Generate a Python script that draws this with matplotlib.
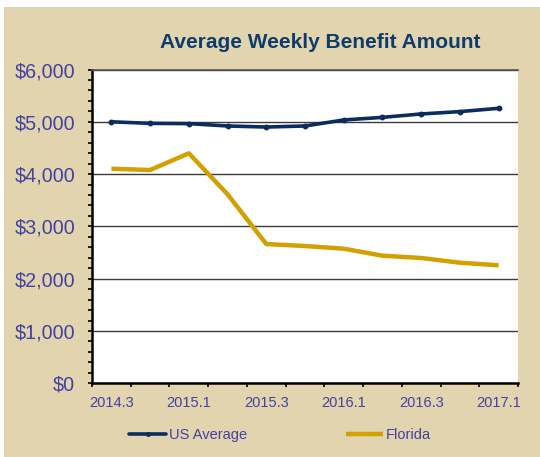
import matplotlib
matplotlib.use("Agg")
import matplotlib.pyplot as plt
from matplotlib.patches import Rectangle
from matplotlib.ticker import FixedLocator, MultipleLocator, FuncFormatter

quarters = ["2014.3", "2014.4", "2015.1", "2015.2", "2015.3", "2015.4",
            "2016.1", "2016.2", "2016.3", "2016.4", "2017.1"]
us_average = [5000, 4970, 4965, 4920, 4900, 4920, 5035, 5085, 5150, 5195, 5258]
florida = [4103, 4078, 4398, 3614, 2663, 2625, 2574, 2440, 2396, 2306, 2256]

BEIGE = "#E1D4AE"
NAVY = "#0B2C5F"
GOLD = "#D2A000"
TXT = "#4242A2"
TITLE = "#0E3D6B"
FONT = "Liberation Sans"

fig = plt.figure(figsize=(5.4, 4.57), dpi=100, facecolor="white")
bg = Rectangle((4 / 540, 0), 1 - 4 / 540, 1 - 7 / 457,
               transform=fig.transFigure, facecolor=BEIGE,
               edgecolor="none", zorder=-10)
fig.add_artist(bg)

ax = fig.add_axes([92 / 540, 1 - 383.3 / 457, (518 - 92) / 540, (383.3 - 69.5) / 457])
ax.set_zorder(1)
ax.set_facecolor("white")

x = list(range(len(quarters)))
ax.plot(x, us_average, color=NAVY, lw=2.6, marker="o", ms=3.2, label="US Average",
        solid_capstyle="round", zorder=3)
ax.plot(x, florida, color=GOLD, lw=3.2, label="Florida", solid_capstyle="butt", zorder=3)

ax.set_xlim(-0.5, len(quarters) - 0.5)
ax.set_ylim(0, 6000)

# y axis
ax.yaxis.set_major_locator(MultipleLocator(1000))
ax.yaxis.set_minor_locator(MultipleLocator(200))
ax.yaxis.set_major_formatter(FuncFormatter(lambda v, p: f"${v:,.0f}"))
ax.tick_params(axis="y", which="both", direction="out", length=3.2, width=1.2,
               color="black", pad=9)
ax.tick_params(axis="y", which="major", labelsize=14.2, labelcolor=TXT)
for lab in ax.get_yticklabels():
    lab.set_fontfamily(FONT)

# x axis: tick marks at category boundaries, labels at every other category
ax.xaxis.set_minor_locator(FixedLocator([i - 0.5 for i in range(len(quarters) + 1)]))
ax.xaxis.set_major_locator(FixedLocator(x[::2]))
ax.set_xticklabels(quarters[::2], fontfamily=FONT)
ax.tick_params(axis="x", which="minor", direction="out", length=3.2, width=1.2, color="black")
ax.tick_params(axis="x", which="major", length=0, labelsize=10.5, labelcolor=TXT, pad=9)

ax.grid(axis="y", which="major", color="#3a3a3a", lw=1.0, zorder=1)
ax.set_axisbelow(True)

ax.spines["right"].set_visible(False)
ax.spines["top"].set_color("#555555")
ax.spines["top"].set_linewidth(1.2)
ax.spines["left"].set_linewidth(1.8)
ax.spines["bottom"].set_linewidth(1.8)
ax.spines["left"].set_color("black")
ax.spines["bottom"].set_color("black")

fig.text(320 / 540, 1 - 42 / 457, "Average Weekly Benefit Amount", ha="center", va="center",
         fontsize=15, fontweight="bold", color=TITLE, fontfamily=FONT)

leg = fig.legend(loc="center", bbox_to_anchor=(280 / 540, 1 - 435 / 457), ncol=2,
                 frameon=False, handlelength=2.5, handletextpad=0.2, columnspacing=6.8,
                 prop={"family": FONT, "size": 10.5}, markerscale=0.8)
for t in leg.get_texts():
    t.set_color(TXT)

fig.savefig("out.png", dpi=100, facecolor=fig.get_facecolor())
